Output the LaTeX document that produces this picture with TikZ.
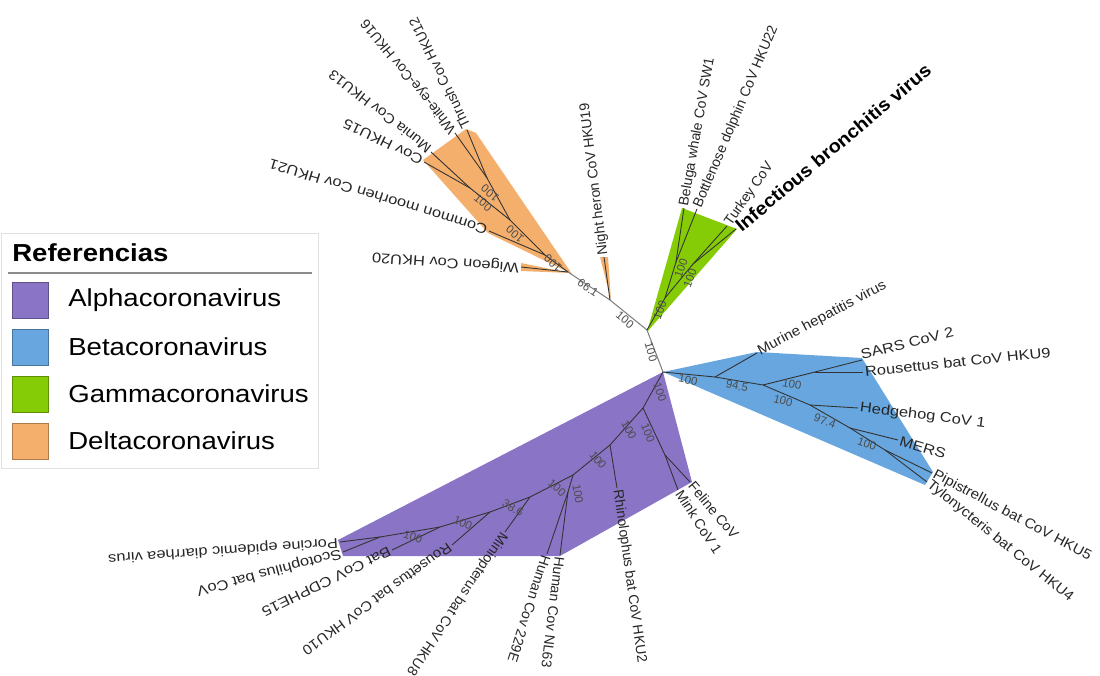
\documentclass[tikz,border=0pt]{standalone}
\usepackage{fontspec}
\setmainfont{Liberation Sans}
\newfontfamily\legfont[FakeStretch=1.12]{Liberation Sans}
\newfontfamily\leafw[FakeStretch=1.17]{Liberation Sans}
\newfontfamily\leafm[FakeStretch=1.08]{Liberation Sans}
\definecolor{alphac}{HTML}{8A74C6}
\definecolor{betac}{HTML}{67A6DF}
\definecolor{gammac}{HTML}{86CC06}
\definecolor{deltac}{HTML}{F5AF6C}
\tikzset{
  br/.style={line width=0.5pt,draw=black!80},
  bb/.style={line width=0.6pt,draw=black!50},
  leaf/.style={anchor=west,inner sep=1pt,font=\fontsize{8}{9}\selectfont,text=black!85},
  leafh/.style={leaf,font=\leafw\fontsize{8}{9}\selectfont},
  leafd/.style={leaf,font=\leafm\fontsize{8}{9}\selectfont},
  boot/.style={inner sep=0pt,font=\fontsize{6.5}{7}\selectfont,text=black!70},
  keybox/.style={draw=#1!70!black,fill=#1,minimum size=0.72cm,inner sep=0pt},
  keytext/.style={anchor=west,inner sep=0pt,font=\legfont\fontsize{14}{16}\selectfont}
}
\begin{document}
\begin{tikzpicture}[x=0.02cm,y=-0.02cm]
  \useasboundingbox (0,0) rectangle (1100,676);

  % backbone
  \coordinate (dA) at (568,272);
  \coordinate (nH) at (610,300);
  \coordinate (gR) at (647,330);
  \coordinate (cR) at (663,372);

  % clade shading
  \fill[deltac] (572,274)--(488,233)--(423,160)--(466,129)--(476,133)--cycle;
  \fill[deltac] (570,273)--(521,263)--(521,271)--cycle;
  \fill[deltac] (611,300)--(600,257)--(608,257)--cycle;
  \fill[gammac] (647,332)--(682,208)--(737,229)--cycle;
  \fill[betac] (663,372)--(757,352)--(862,358)--(933,472)--(925,485)--cycle;
  \fill[alphac] (663,372)--(692,482)--(560,556)--(343,556)--(338,540)--cycle;

  \draw[bb] (dA)--(nH)--(gR)--(cR);

  % Deltacoronavirus
  \coordinate (d1) at (545,255);
  \coordinate (d2) at (510,220);
  \coordinate (d3) at (470,188);
  \coordinate (d4) at (487,178);
  \coordinate (tWig) at (521,267);
  \coordinate (tMoor) at (489,231);
  \coordinate (tH15) at (424,162);
  \coordinate (tMun) at (431,152);
  \coordinate (tWhi) at (455,133);
  \coordinate (tThr) at (467,130);
  \coordinate (tNH) at (604,257);
  \foreach \a/\b in {dA/tWig,dA/d1,d1/tMoor,d1/d2,d2/d3,d2/d4,d3/tH15,d3/tMun,d4/tWhi,d4/tThr,nH/tNH}
    \draw[br] (\a)--(\b);

  % Gammacoronavirus
  \coordinate (g1) at (665,298);
  \coordinate (g2) at (676,262);
  \coordinate (g3) at (693,264);
  \coordinate (tBel) at (684,208);
  \coordinate (tBot) at (697,209);
  \coordinate (tTur) at (727,226);
  \coordinate (tIBV) at (736,229);
  \foreach \a/\b in {gR/g1,g1/g2,g1/g3,g2/tBel,g2/tBot,g3/tTur,g3/tIBV}
    \draw[br] (\a)--(\b);

  % Betacoronavirus
  \coordinate (b1) at (715,377);
  \coordinate (b2) at (763,385);
  \coordinate (b3) at (815,372);
  \coordinate (b4) at (810,405);
  \coordinate (b5) at (850,428);
  \coordinate (b6) at (885,450);
  \coordinate (tMur) at (757,353);
  \coordinate (tSARS) at (862,360);
  \coordinate (tRo9) at (863,372);
  \coordinate (tHed) at (858,408);
  \coordinate (tMERS) at (898,440);
  \coordinate (tPip) at (932,473);
  \coordinate (tTyl) at (927,482);
  \foreach \a/\b in {cR/b1,b1/tMur,b1/b2,b2/b3,b3/tSARS,b3/tRo9,b2/b4,b4/tHed,b4/b5,b5/tMERS,b5/b6,b6/tPip,b6/tTyl}
    \draw[br] (\a)--(\b);

  % Alphacoronavirus
  \coordinate (a1) at (643,408);
  \coordinate (a1f) at (665,455);
  \coordinate (a2) at (610,445);
  \coordinate (a3) at (573,475);
  \coordinate (a3h) at (568,492);
  \coordinate (a4) at (530,497);
  \coordinate (a5) at (490,512);
  \coordinate (a6) at (440,527);
  \coordinate (a7) at (380,537);
  \coordinate (tFel) at (690,482);
  \coordinate (tMin) at (678,490);
  \coordinate (tRhi) at (617,488);
  \coordinate (tNL) at (560,555);
  \coordinate (tHE) at (547,554);
  \coordinate (tMio) at (505,532);
  \coordinate (tR10) at (452,545);
  \coordinate (tCD) at (392,550);
  \coordinate (tPor) at (340,542);
  \coordinate (tSco) at (343,552);
  \foreach \a/\b in {cR/a1,a1/a1f,a1f/tFel,a1f/tMin,a1/a2,a2/tRhi,a2/a3,a3/a3h,a3h/tNL,a3h/tHE,a3/a4,a4/tMio,a4/a5,a5/tR10,a5/a6,a6/tCD,a6/a7,a7/tPor,a7/tSco}
    \draw[br] (\a)--(\b);

  % support values
  \node[boot,rotate=-35] (s01) at (588,288) {66.1};
  \node[boot,rotate=-40] (s02) at (625,320) {100};
  \node[boot,rotate=-75] (s03) at (651,352) {100};
  \node[boot,rotate=140] (s04) at (553,263) {100};
  \node[boot,rotate=140] (s05) at (515,234) {100};
  \node[boot,rotate=140] (s06) at (490,193) {100};
  \node[boot,rotate=-40] (s07) at (483,203) {100};
  \node[boot,rotate=70] (s08) at (660,310) {100};
  \node[boot,rotate=70] (s09) at (681,268) {100};
  \node[boot,rotate=70] (s10) at (690,278) {100};
  \node[boot,rotate=-12] (s11) at (688,380) {100};
  \node[boot,rotate=-12] (s12) at (737,386) {94.5};
  \node[boot,rotate=-10] (s13) at (792,384) {100};
  \node[boot,rotate=-15] (s14) at (783,401) {100};
  \node[boot,rotate=-20] (s15) at (825,421) {97.4};
  \node[boot,rotate=-20] (s16) at (867,444) {100};
  \node[boot,rotate=-70] (s17) at (660,392) {100};
  \node[boot,rotate=-68] (s18) at (648,433) {100};
  \node[boot,rotate=-60] (s19) at (629,430) {100};
  \node[boot,rotate=-50] (s20) at (598,460) {100};
  \node[boot,rotate=-40] (s21) at (557,488) {100};
  \node[boot,rotate=-80] (s22) at (578,494) {100};
  \node[boot,rotate=-30] (s23) at (513,508) {38.6};
  \node[boot,rotate=-25] (s24) at (463,523) {100};
  \node[boot,rotate=-20] (s25) at (413,537) {100};

  % leaf labels
  \node[leafh,rotate=176] (lWig) at (tWig) {Wigeon Cov HKU20};
  \node[leafh,rotate=163] (lMoor) at (tMoor) {Common moorhen Cov HKU21};
  \node[leafh,rotate=154] (lH15) at (tH15) {Cov HKU15};
  \node[leafd,rotate=142] (lMun) at (tMun) {Munia Cov HKU13};
  \node[leaf,rotate=129] (lWhi) at (tWhi) {White-eye-Cov HKU16};
  \node[leaf,rotate=116] (lThr) at (tThr) {Thrush Cov HKU12};
  \node[leaf,rotate=97] (lNH) at (tNH) {Night heron CoV HKU19};
  \node[leaf,rotate=80] (lBel) at (tBel) {Beluga whale CoV SW1};
  \node[leaf,rotate=67] (lBot) at (tBot) {Bottlenose dolphin CoV HKU22};
  \node[leaf,rotate=55] (lTur) at (tTur) {Turkey CoV};
  \node[leaf,rotate=40,font=\leafm\bfseries\fontsize{10.5}{12}\selectfont,text=black] (lIBV) at (tIBV) {Infectious bronchitis virus};
  \node[leafd,rotate=28] (lMur) at (tMur) {Murine hepatitis virus};
  \node[leafh,rotate=14,anchor=south west,inner sep=0pt] (lSARS) at (tSARS) {SARS CoV 2};
  \node[leafh,rotate=6] (lRo9) at (tRo9) {Rousettus bat CoV HKU9};
  \node[leafh,rotate=-7] (lHed) at (tHed) {Hedgehog CoV 1};
  \node[leafh,rotate=-17] (lMERS) at (tMERS) {MERS};
  \node[leafd,rotate=-28] (lPip) at (tPip) {Pipistrellus bat CoV HKU5};
  \node[leafd,rotate=-39] (lTyl) at (tTyl) {Tylonycteris bat CoV HKU4};
  \node[leaf,rotate=-50] (lFel) at (tFel) {Feline CoV};
  \node[leaf,rotate=-57] (lMin) at (tMin) {Mink CoV 1};
  \node[leaf,rotate=-82] (lRhi) at (tRhi) {Rhinolophus bat CoV HKU2};
  \node[leaf,rotate=-97] (lNL) at (tNL) {Human Cov NL63};
  \node[leaf,rotate=-108] (lHE) at (tHE) {Human Cov 229E};
  \node[leaf,rotate=-124] (lMio) at (tMio) {Miniopterus bat CoV HKU8};
  \node[leafd,rotate=-144] (lR10) at (tR10) {Rousettus bat CoV HKU10};
  \node[leafh,rotate=-154] (lCD) at (tCD) {Bat CoV CDPHE15};
  \node[leafh,rotate=-165] (lSco) at (tSco) {Scotophilus bat CoV};
  \node[leafh,rotate=-176] (lPor) at (tPor) {Porcine epidemic diarrhea virus};

  % legend
  \draw[black!12] (1,233) rectangle (318,468);
  \node[anchor=west,inner sep=0pt,font=\legfont\bfseries\fontsize{14}{16}\selectfont] (ref) at (12,253) {Referencias};
  \draw[black!45,line width=0.8pt] (8,273)--(312,273);
  \node[keybox=alphac] (kA) at (30,300) {};
  \node[keybox=betac] (kB) at (30,347) {};
  \node[keybox=gammac] (kG) at (30,394) {};
  \node[keybox=deltac] (kD) at (30,441) {};
  \node[keytext] (tA) at (68,300) {Alphacoronavirus};
  \node[keytext] (tB) at (68,347) {Betacoronavirus};
  \node[keytext] (tG) at (68,394) {Gammacoronavirus};
  \node[keytext] (tD) at (68,441) {Deltacoronavirus};
\end{tikzpicture}
\end{document}
